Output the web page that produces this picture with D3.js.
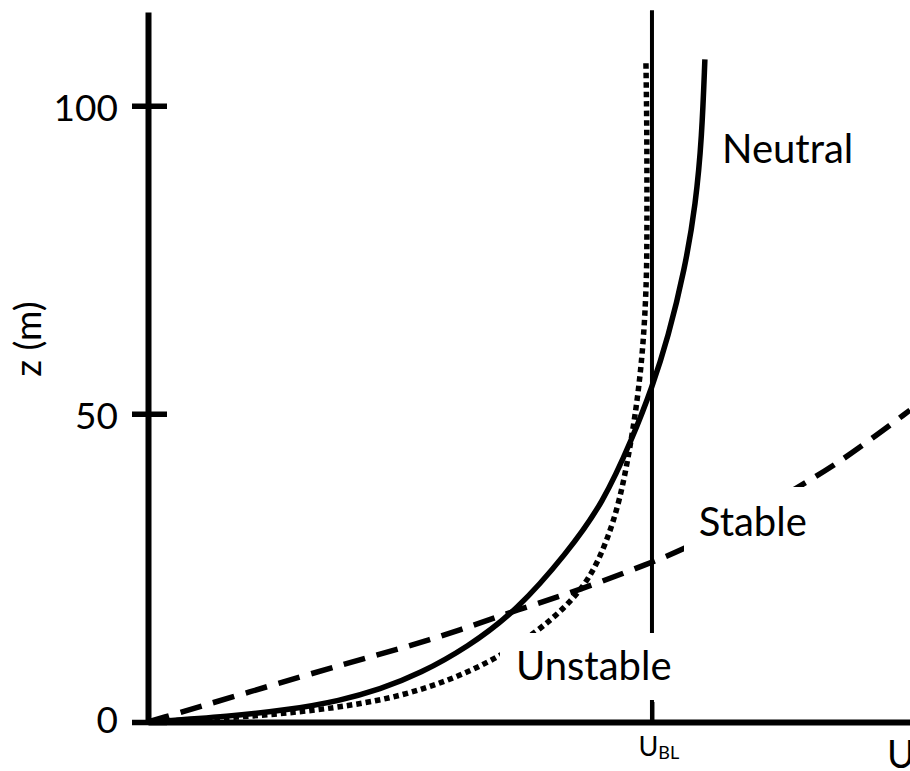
<!DOCTYPE html>
<html>
<head>
<meta charset="utf-8">
<script src="https://cdn.jsdelivr.net/npm/d3@7"></script>
<style>
  html, body { margin: 0; padding: 0; background: #fff; }
  svg { display: block; }
  text { font-family: Lato, "Open Sans", sans-serif; fill: #000; }
</style>
</head>
<body>
<svg id="chart" width="910" height="771"></svg>
<script>
// ---- data (U in units of U_BL, z in metres) ----
const zTicks = [0, 50, 100];
const uTicks = [1];
const uTickMain = ["U"];
const uTickSub = ["BL"];
const xAxisTitle = "U";
const yAxisTitle = "z (m)";

const neutralU = [0, 0.163, 0.282, 0.381, 0.460, 0.540, 0.633, 0.732, 0.831, 0.903, 0.962, 1.000, 1.032, 1.065, 1.087, 1.099, 1.105];
const neutralZ = [0, 0.93, 2.0, 3.46, 5.27, 7.87, 12.07, 18.07, 27.4, 35.5, 46.2, 54.2, 62.4, 73.4, 84.1, 94.9, 107.5];

const unstableU = [0, 0.183, 0.341, 0.460, 0.540, 0.619, 0.698, 0.772, 0.831, 0.877, 0.911, 0.937, 0.956, 0.970, 0.980, 0.986, 0.990, 0.990, 0.990, 0.988];
const unstableZ = [0, 0.75, 1.91, 3.47, 5.16, 7.49, 10.61, 14.66, 18.82, 23.28, 29.36, 36.17, 44.28, 51.58, 58.88, 65.69, 73.8, 83.5, 96.0, 107.2];

const stableU = [0, 0.202, 0.401, 0.514, 0.619, 0.732, 0.857, 0.996, 1.060, 1.175, 1.294, 1.359, 1.427, 1.512];
const stableZ = [0, 4.9, 9.7, 12.2, 14.9, 18.2, 21.4, 25.8, 27.9, 32.6, 38.3, 41.5, 45.4, 50.6];

const ublLineTop = 115.5;

const labels = ["Neutral", "Stable", "Unstable"];

// ---- chart ----
const svg = d3.select("#chart");
const x = d3.scaleLinear().domain([0, 1.512]).range([148, 910]);
const y = d3.scaleLinear().domain([0, 115.2]).range([722, 12]);

const zip = (a, b) => a.map((v, i) => [v, b[i]]);
const line = d3.line().x(d => x(d[0])).y(d => y(d[1])).curve(d3.curveBasis);

// U_BL vertical reference line
svg.append("line")
  .attr("x1", x(uTicks[0])).attr("x2", x(uTicks[0]))
  .attr("y1", y(ublLineTop)).attr("y2", y(0))
  .attr("stroke", "#000").attr("stroke-width", 4);

// curves
svg.append("path").datum(zip(unstableU, unstableZ)).attr("d", line)
  .attr("fill", "none").attr("stroke", "#000").attr("stroke-width", 5.5)
  .attr("stroke-dasharray", "5.5 4");
svg.append("path").datum(zip(stableU, stableZ)).attr("d", line)
  .attr("fill", "none").attr("stroke", "#000").attr("stroke-width", 5.5)
  .attr("stroke-dasharray", "22 12");
svg.append("path").datum(zip(neutralU, neutralZ)).attr("d", line)
  .attr("fill", "none").attr("stroke", "#000").attr("stroke-width", 5.5);

// axes
const yAxis = svg.append("g").attr("transform", `translate(${x(0)},0)`)
  .call(d3.axisLeft(y).tickValues(zTicks).tickSizeInner(16).tickSizeOuter(0)
    .tickPadding(14).tickFormat(d3.format("d")));
yAxis.select(".domain").attr("stroke", "#000").attr("stroke-width", 6);
yAxis.selectAll(".tick line").attr("x1", 19).attr("x2", -16)
  .attr("stroke", "#000").attr("stroke-width", 5.5);
yAxis.selectAll(".tick text").attr("font-size", 37).attr("dy", d => d === 0 ? "0.27em" : "0.4em")
  .style("font-family", "Lato, sans-serif").attr("fill", "#000");

const xAxis = svg.append("g").attr("transform", `translate(0,${y(0)})`)
  .call(d3.axisBottom(x).tickValues(uTicks).tickSizeInner(-20).tickSizeOuter(0).tickFormat(""));
xAxis.select(".domain").attr("stroke", "#000").attr("stroke-width", 6);
xAxis.selectAll(".tick line").attr("stroke", "#000").attr("stroke-width", 4);
xAxis.selectAll(".tick text").remove();
xAxis.selectAll(".tick").each(function(d, i) {
  const t = d3.select(this).append("text")
    .attr("x", -14).attr("y", 34).attr("text-anchor", "start")
    .style("font-family", "Lato, sans-serif").attr("fill", "#000");
  t.append("tspan").attr("font-size", 27).text(uTickMain[i]);
  t.append("tspan").attr("font-size", 18).attr("dy", 3).text(uTickSub[i]);
});

// axis titles
svg.append("text").attr("x", 887).attr("y", 768).attr("font-size", 38).text(xAxisTitle);
svg.append("text").attr("transform", "translate(41,339) rotate(-90)")
  .attr("text-anchor", "middle").attr("font-size", 37).text(yAxisTitle);

// curve labels with white boxes that mask lines
function label(txt, u, z, box) {
  svg.append("rect").attr("x", box[0]).attr("y", box[1])
    .attr("width", box[2] - box[0]).attr("height", box[3] - box[1]).attr("fill", "#fff");
  svg.append("text").attr("x", x(u)).attr("y", y(z)).attr("font-size", 40).text(txt);
}
label(labels[0], 1.139, 90.7, [715, 120, 870, 175]);
label(labels[1], 1.093, 30.2, [684, 487, 830, 560]);
label(labels[2], 0.730, 6.8, [500, 633, 690, 700]);
</script>
</body>
</html>
